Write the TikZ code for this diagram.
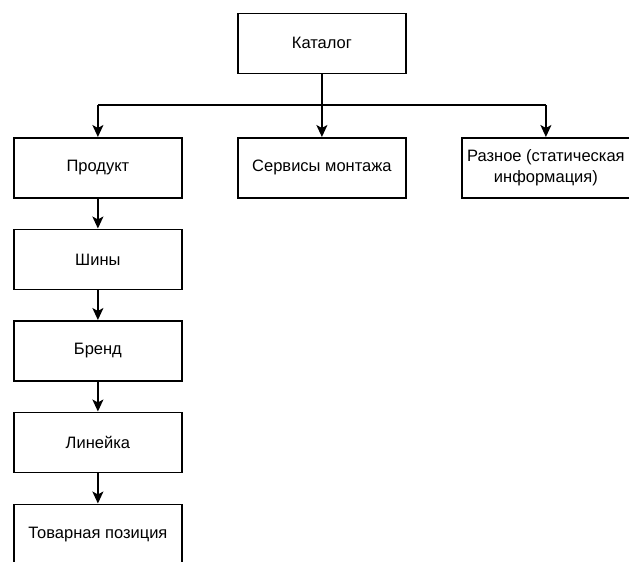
\documentclass[tikz,border=0pt]{standalone}
\usepackage{fontspec}
\setmainfont{Liberation Sans}
\usetikzlibrary{arrows.meta}
\begin{document}
\begin{tikzpicture}[x=1pt,y=-1pt,
  box/.style={draw=black,line width=1.8pt,fill=white,minimum width=168pt,minimum height=60pt,inner sep=1pt,align=center,font=\fontsize{16.5}{21}\selectfont,anchor=north west},
  conn/.style={draw=black,line width=1.8pt,-{Stealth[length=12pt,width=11pt,inset=3pt]}},
  plain/.style={draw=black,line width=1.8pt}]
\useasboundingbox (0,0) rectangle (629,562);
\clip (0,0) rectangle (629,562);
\node[box] (cat) at (237,12.5) {Каталог};
\node[box] (prod) at (13,137) {Продукт};
\node[box] (serv) at (237,137) {Сервисы монтажа};
\node[box] (misc) at (461,137) {Разное (статическая\\информация)};
\node[box] (tyre) at (13,228.5) {Шины};
\node[box] (brand) at (13,320) {Бренд};
\node[box] (line) at (13,411.5) {Линейка};
\node[box] (item) at (13,503.5) {Товарная позиция};
\coordinate (j) at (cat.south |- 0,105);
\coordinate (jl) at (prod.north |- 0,105);
\coordinate (jr) at (misc.north |- 0,105);
\draw[plain] (cat.south) -- (j);
\draw[plain] (jl) -- (jr);
\draw[conn] (j) -- (serv.north);
\draw[conn] (jl) -- (prod.north);
\draw[conn] (jr) -- (misc.north);
\draw[conn] (prod) -- (tyre);
\draw[conn] (tyre) -- (brand);
\draw[conn] (brand) -- (line);
\draw[conn] (line) -- (item);
\end{tikzpicture}
\end{document}
